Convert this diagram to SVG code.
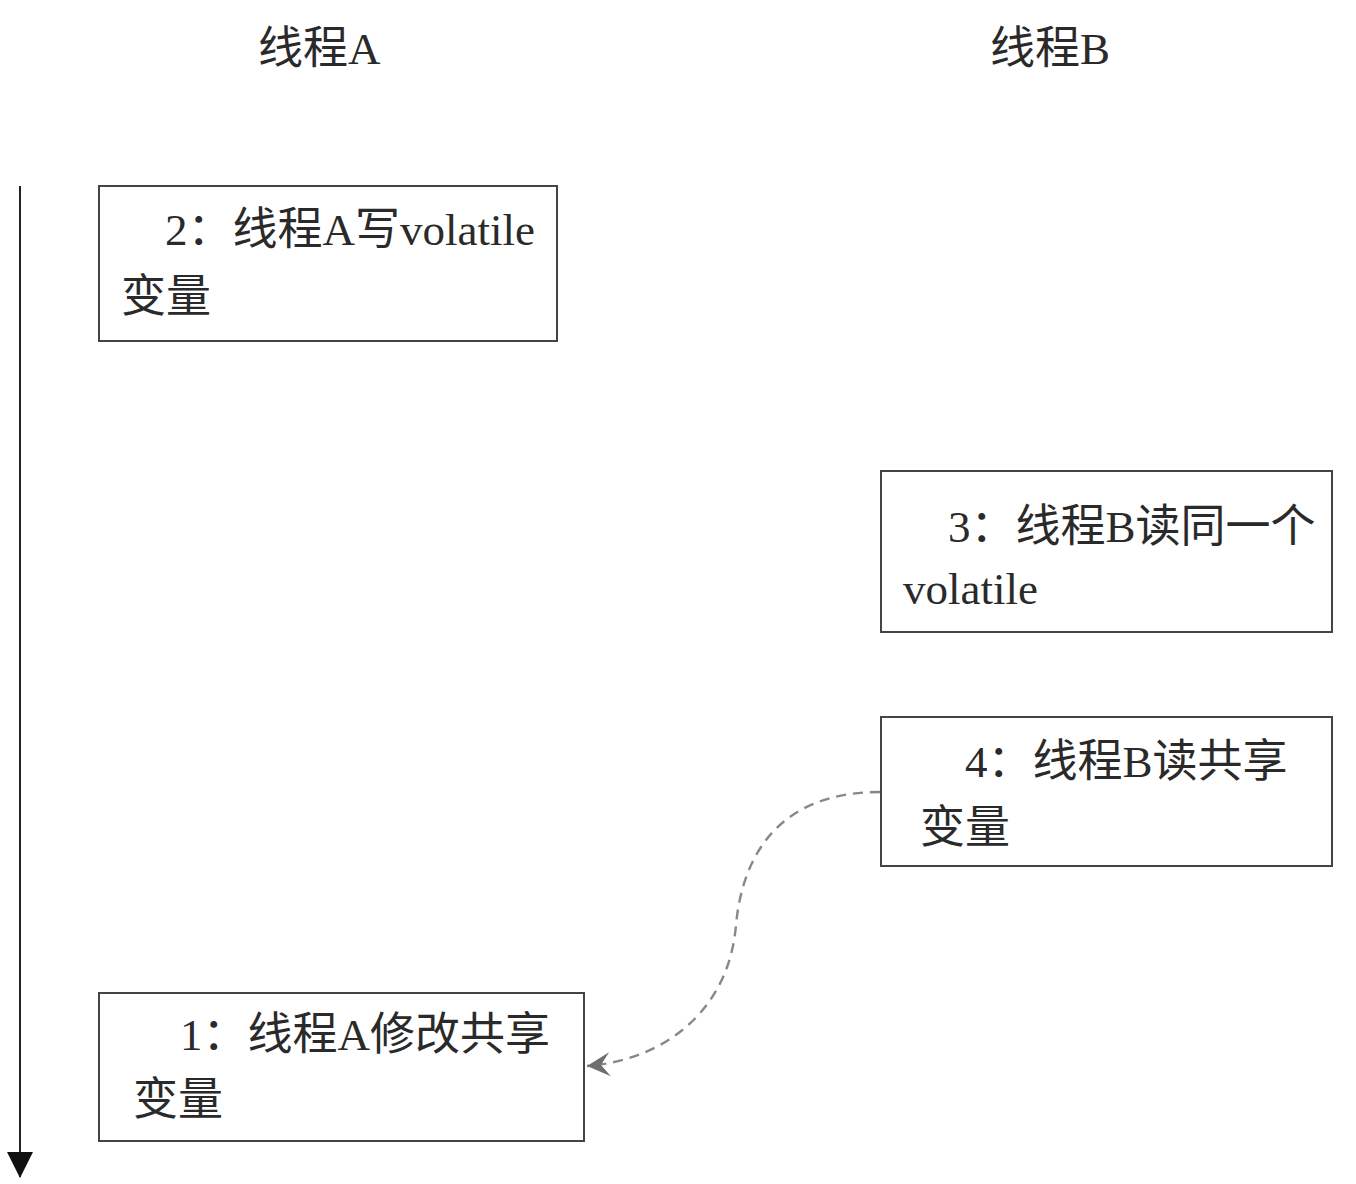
<svg xmlns="http://www.w3.org/2000/svg" width="1356" height="1184" viewBox="0 0 1356 1184">
<style>
.t{font-family:"Liberation Serif","Noto Sans CJK SC",serif;font-size:45px;fill:#2a2a2a}
.box{fill:#fff;stroke:#444;stroke-width:2}
</style>
<defs>
<marker id="tri" markerUnits="userSpaceOnUse" markerWidth="26" markerHeight="26" refX="13" refY="25" orient="0" viewBox="0 0 26 26">
<path d="M0,0 L26,0 L13,26 z" fill="#111"/>
</marker>
<marker id="chev" markerUnits="userSpaceOnUse" markerWidth="26" markerHeight="26" refX="24" refY="13" orient="auto" viewBox="0 0 26 26">
<path d="M24,13 L1,1 L10,13 L1,25 z" fill="#6e6e6e"/>
</marker>
</defs>
<rect width="1356" height="1184" fill="#fff"/>
<g id="titles">
<text class="t" x="258" y="64">线程A</text>
<text class="t" x="990" y="64">线程B</text>
</g>
<g id="node2">
<rect class="box" x="99" y="186" width="458" height="155"/>
<text class="t" x="165" y="245">2：线程A写volatile</text>
<text class="t" x="121" y="312">变量</text>
</g>
<g id="node3">
<rect class="box" x="881" y="471" width="451" height="161"/>
<text class="t" x="948" y="542">3：线程B读同一个</text>
<text class="t" x="903" y="604">volatile</text>
</g>
<g id="node4">
<rect class="box" x="881" y="717" width="451" height="149"/>
<text class="t" x="965" y="777">4：线程B读共享</text>
<text class="t" x="920" y="843">变量</text>
</g>
<g id="node1">
<rect class="box" x="99" y="993" width="485" height="148"/>
<text class="t" x="180" y="1050">1：线程A修改共享</text>
<text class="t" x="133" y="1115">变量</text>
</g>
<g id="connectors">
<line x1="20" y1="186" x2="20" y2="1177" stroke="#222" stroke-width="2" marker-end="url(#tri)"/>
<path d="M880,792 C775,792 742,860 736,925 C729,1010 665,1060 587,1066" fill="none" stroke="#888" stroke-width="2.4" stroke-dasharray="10,7" marker-end="url(#chev)"/>
</g>
</svg>
